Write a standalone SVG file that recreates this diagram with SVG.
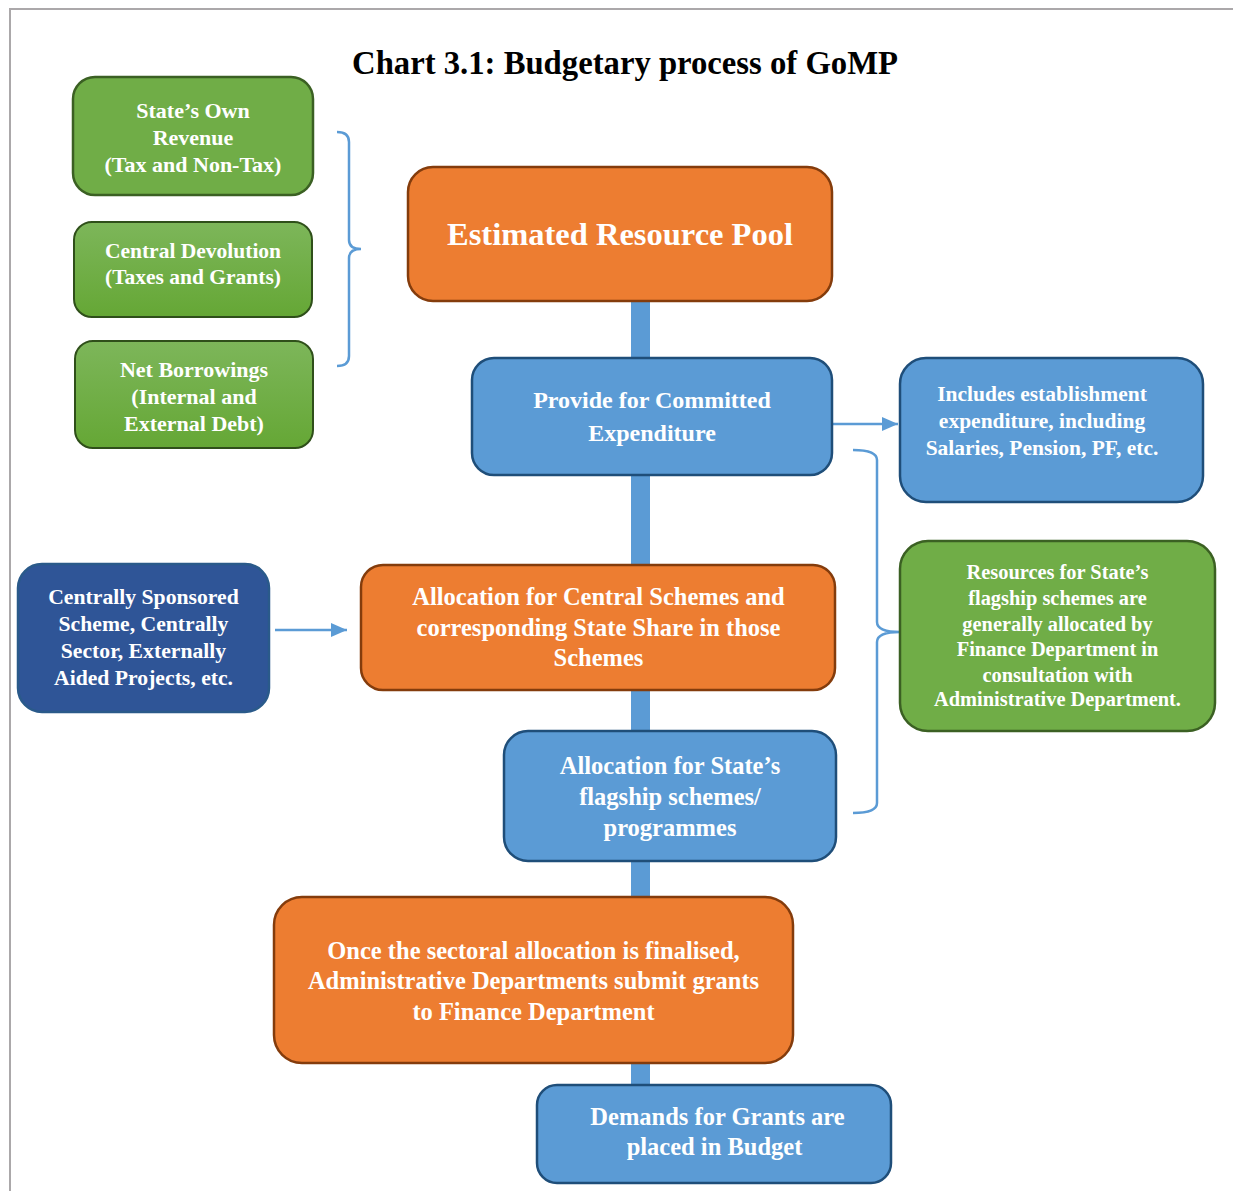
<svg xmlns="http://www.w3.org/2000/svg" width="1233" height="1191" viewBox="0 0 1233 1191">
<style>
text{font-family:"Liberation Serif","Times New Roman",serif;font-weight:bold;fill:#ffffff;text-anchor:middle}
.title{fill:#000000;font-size:32.7px}
.green{fill:#70AD47;stroke:#3B6023;stroke-width:2.5}
.greenG{fill:url(#gg);stroke:#2F4F1A;stroke-width:2}
.orange{fill:#ED7D31;stroke:#843C0C;stroke-width:2.5}
.blue{fill:#5B9BD5;stroke:#1F4E79;stroke-width:2.5}
.dblue{fill:#2F5597;stroke:#2A5A8A;stroke-width:2.5}
.conn{fill:none;stroke:#5B9BD5;stroke-width:2.5}
.spine{fill:#5B9BD5}
</style>
<defs>
<linearGradient id="gg" x1="0" y1="0" x2="0" y2="1">
<stop offset="0" stop-color="#7DB65A"/>
<stop offset="1" stop-color="#65A735"/>
</linearGradient>
<marker id="ah2" viewBox="0 0 10 10" refX="10" refY="5" markerWidth="16" markerHeight="14" markerUnits="userSpaceOnUse" orient="auto" preserveAspectRatio="none">
<path d="M0,0 L10,5 L0,10 z" fill="#5B9BD5"/>
</marker>
</defs>
<rect width="1233" height="1191" fill="#ffffff"/>
<path d="M10,1191 V9 H1233" fill="none" stroke="#ABA8AA" stroke-width="2"/>
<text class="title" x="625" y="74">Chart 3.1: Budgetary process of GoMP</text>

<g id="connectors">
<rect class="spine" x="631" y="300" width="19" height="786"/>
<path class="conn" d="M337,132 Q349,132 349,142 V240 Q349,249 361,249 Q349,249 349,258 V356 Q349,366 337,366"/>
<path class="conn" d="M853,450 Q877,450 877,460 V622 Q877,632 900,632 Q877,632 877,642 V803 Q877,813 853,813"/>
<line x1="832" y1="424" x2="898" y2="424" stroke="#5B9BD5" stroke-width="2.5" marker-end="url(#ah2)"/>
<line x1="275" y1="630" x2="347" y2="630" stroke="#5B9BD5" stroke-width="2.5" marker-end="url(#ah2)"/>
</g>

<g id="own-revenue">
<rect class="green" x="73" y="77" width="240" height="118" rx="22"/>
<text x="193" y="118" font-size="22">State’s Own</text>
<text x="193" y="145" font-size="22">Revenue</text>
<text x="193" y="172" font-size="22">(Tax and Non-Tax)</text>
</g>

<g id="central-devolution">
<rect class="greenG" x="74" y="222" width="238" height="95" rx="18"/>
<text x="193" y="257.5" font-size="21.5">Central Devolution</text>
<text x="193" y="283.5" font-size="21.5">(Taxes and Grants)</text>
</g>

<g id="net-borrowings">
<rect class="greenG" x="75" y="341" width="238" height="107" rx="18"/>
<text x="194" y="377" font-size="22">Net Borrowings</text>
<text x="194" y="404" font-size="22">(Internal and</text>
<text x="194" y="431" font-size="22">External Debt)</text>
</g>

<g id="resource-pool">
<rect class="orange" x="408" y="167" width="424" height="134" rx="25"/>
<text x="620" y="244.5" font-size="32.5">Estimated Resource Pool</text>
</g>

<g id="committed">
<rect class="blue" x="472" y="358" width="360" height="117" rx="22"/>
<text x="652" y="407.5" font-size="24">Provide for Committed</text>
<text x="652" y="440.5" font-size="24">Expenditure</text>
</g>

<g id="establishment">
<rect class="blue" x="900" y="358" width="303" height="144" rx="26"/>
<text x="1042" y="400.5" font-size="21.5">Includes establishment</text>
<text x="1042" y="427.5" font-size="21.5">expenditure, including</text>
<text x="1042" y="454.5" font-size="21.5">Salaries, Pension, PF, etc.</text>
</g>

<g id="flagship-resources">
<rect class="green" x="900" y="541" width="315" height="190" rx="28"/>
<text x="1057.5" y="579" font-size="20.4">Resources for State’s</text>
<text x="1057.5" y="605" font-size="20.4">flagship schemes are</text>
<text x="1057.5" y="631" font-size="20.4">generally allocated by</text>
<text x="1057.5" y="656" font-size="20.4">Finance Department in</text>
<text x="1057.5" y="682" font-size="20.4">consultation with</text>
<text x="1057.5" y="706" font-size="20.4">Administrative Department.</text>
</g>

<g id="centrally-sponsored">
<rect class="dblue" x="18" y="564" width="251" height="148" rx="24"/>
<text x="143.5" y="603.5" font-size="21.7">Centrally Sponsored</text>
<text x="143.5" y="630.5" font-size="21.7">Scheme, Centrally</text>
<text x="143.5" y="657.5" font-size="21.7">Sector, Externally</text>
<text x="143.5" y="684.5" font-size="21.7">Aided Projects, etc.</text>
</g>

<g id="central-schemes">
<rect class="orange" x="361" y="565" width="474" height="125" rx="22"/>
<text x="598.5" y="604.5" font-size="24.5">Allocation for Central Schemes and</text>
<text x="598.5" y="635.5" font-size="24.5">corresponding State Share in those</text>
<text x="598.5" y="665.5" font-size="24.5">Schemes</text>
</g>

<g id="state-flagship">
<rect class="blue" x="504" y="731" width="332" height="130" rx="24"/>
<text x="670" y="773.5" font-size="24.5">Allocation for State’s</text>
<text x="670" y="804.5" font-size="24.5">flagship schemes/</text>
<text x="670" y="835.5" font-size="24.5">programmes</text>
</g>

<g id="sectoral">
<rect class="orange" x="274" y="897" width="519" height="166" rx="28"/>
<text x="533.5" y="958.5" font-size="24.5">Once the sectoral allocation is finalised,</text>
<text x="533.5" y="988.5" font-size="24.5">Administrative Departments submit grants</text>
<text x="533.5" y="1019.5" font-size="24.5">to Finance Department</text>
</g>

<g id="demands">
<rect class="blue" x="537" y="1085" width="354" height="98" rx="20"/>
<text x="717.5" y="1124.5" font-size="24.5">Demands for Grants are</text>
<text x="714.5" y="1154.5" font-size="24.5">placed in Budget</text>
</g>
</svg>
